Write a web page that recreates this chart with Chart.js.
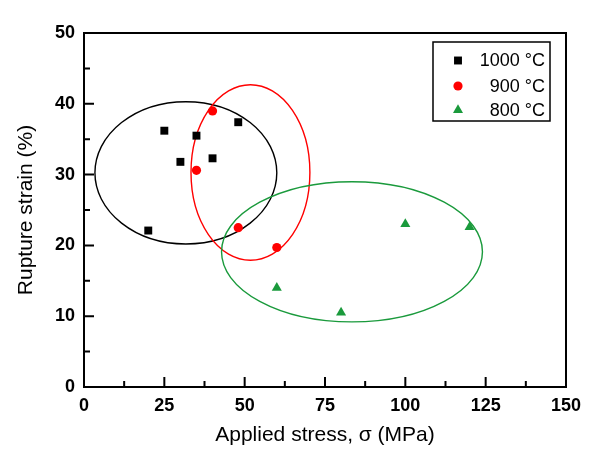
<!DOCTYPE html>
<html>
<head>
<meta charset="utf-8">
<title>Rupture strain x Applied stress</title>
<script src="https://cdn.jsdelivr.net/npm/chart.js@4/dist/chart.umd.min.js"></script>
<style>
  html, body { margin: 0; padding: 0; background: #fff; }
</style>
</head>
<body>
<canvas id="grafico" width="600" height="449"></canvas>
<script>
// dados
const series = ["1000 °C", "900 °C", "800 °C"];
const stress1000 = [20, 25, 30, 35, 40, 48];
const strain1000 = [22.1, 36.2, 31.8, 35.5, 32.3, 37.4];
const stress900 = [35, 40, 48, 60];
const strain900 = [30.6, 39.0, 22.5, 19.7];
const stress800 = [60, 80, 100, 120];
const strain800 = [14.0, 10.5, 23.0, 22.6];
const xTicks = [0, 25, 50, 75, 100, 125, 150];
const yTicks = [0, 10, 20, 30, 40, 50];

// elipses de agrupamento (unidades dos eixos): centro x, centro y, semi-eixos
const elipseCx = [31.7, 51.8, 83.4];
const elipseCy = [30.25, 30.3, 19.1];
const elipseRx = [28.3, 18.5, 40.6];
const elipseRy = [10.05, 12.4, 9.9];

const cores = ["#000000", "#ff0000", "#1a9a3c"];
const FONTE = "'Liberation Sans', Arial, Helvetica, sans-serif";

function pontos(xs, ys) {
  return xs.map((x, i) => ({ x, y: ys[i] }));
}

const elipsesPlugin = {
  id: "elipses",
  beforeDatasetsDraw(chart) {
    const { ctx, scales: { x, y } } = chart;
    ctx.save();
    ctx.lineWidth = 1.4;
    for (let i = 0; i < elipseCx.length; i++) {
      const cx = x.getPixelForValue(elipseCx[i]);
      const cy = y.getPixelForValue(elipseCy[i]);
      const rx = Math.abs(x.getPixelForValue(elipseCx[i] + elipseRx[i]) - cx);
      const ry = Math.abs(y.getPixelForValue(elipseCy[i] + elipseRy[i]) - cy);
      ctx.strokeStyle = cores[i];
      ctx.beginPath();
      ctx.ellipse(cx, cy, rx, ry, 0, 0, Math.PI * 2);
      ctx.stroke();
    }
    ctx.restore();
  }
};

// moldura + ticks internos (maiores e menores)
const molduraPlugin = {
  id: "moldura",
  afterDraw(chart) {
    const { ctx, chartArea: a, scales: { x, y } } = chart;
    ctx.save();
    ctx.strokeStyle = "#000";
    ctx.lineWidth = 2;
    ctx.strokeRect(a.left, a.top, a.right - a.left, a.bottom - a.top);

    ctx.beginPath();
    const xv = x.ticks.map(t => t.value);
    xv.forEach((v, i) => {
      const px = x.getPixelForValue(v);
      ctx.moveTo(px, a.bottom);
      ctx.lineTo(px, a.bottom - 10);
      if (i < xv.length - 1) {
        const pm = x.getPixelForValue((v + xv[i + 1]) / 2);
        ctx.moveTo(pm, a.bottom);
        ctx.lineTo(pm, a.bottom - 6);
      }
    });
    const yv = y.ticks.map(t => t.value);
    yv.forEach((v, i) => {
      const py = y.getPixelForValue(v);
      ctx.moveTo(a.left, py);
      ctx.lineTo(a.left + 10, py);
      if (i < yv.length - 1) {
        const pm = y.getPixelForValue((v + yv[i + 1]) / 2);
        ctx.moveTo(a.left, pm);
        ctx.lineTo(a.left + 6, pm);
      }
    });
    ctx.stroke();
    ctx.restore();
  }
};

// legenda desenhada a mão (marcador à esquerda, texto alinhado à direita)
const legendaPlugin = {
  id: "legenda",
  afterDraw(chart) {
    const { ctx } = chart;
    const caixa = { x: 433, y: 42, w: 117, h: 79 };
    const linhasY = [60.5, 86, 110];
    ctx.save();
    ctx.strokeStyle = "#000";
    ctx.lineWidth = 1.5;
    ctx.strokeRect(caixa.x, caixa.y, caixa.w, caixa.h);
    ctx.font = "18px " + FONTE;
    ctx.textAlign = "right";
    ctx.textBaseline = "middle";
    chart.data.datasets.forEach((ds, i) => {
      ctx.fillStyle = ds.backgroundColor;
      Chart.helpers.drawPoint(ctx, {
        pointStyle: ds.pointStyle, radius: ds.pointRadius, rotation: 0, borderWidth: 0
      }, 458, linhasY[i]);
      ctx.fillStyle = "#000";
      ctx.fillText(ds.label, 545, linhasY[i] + 1);
    });
    ctx.restore();
  }
};

const estilos = ["rect", "circle", "triangle"];
const raios = [5.6, 4.6, 5.8];
const valores = [
  pontos(stress1000, strain1000),
  pontos(stress900, strain900),
  pontos(stress800, strain800)
];

new Chart(document.getElementById("grafico"), {
  type: "scatter",
  data: {
    datasets: series.map((nome, i) => ({
      label: nome,
      data: valores[i],
      pointStyle: estilos[i],
      pointRadius: raios[i],
      pointHoverRadius: raios[i],
      backgroundColor: cores[i],
      borderColor: cores[i],
      borderWidth: 0,
      showLine: false
    }))
  },
  options: {
    responsive: false,
    animation: false,
    layout: { padding: { top: 33, right: 34, left: 0, bottom: 0 } },
    plugins: { legend: { display: false }, tooltip: { enabled: false } },
    scales: {
      x: {
        type: "linear",
        min: 0,
        max: 150,
        afterBuildTicks: s => { s.ticks = xTicks.map(v => ({ value: v })); },
        afterFit: s => { s.height = 62; },
        grid: { display: false, drawTicks: false },
        border: { display: false },
        ticks: { color: "#000", padding: 8, maxRotation: 0, autoSkip: false,
                 font: { family: FONTE, size: 18, weight: "bold" } },
        title: { display: true, text: "Applied stress, σ (MPa)", color: "#000",
                 font: { family: FONTE, size: 21 }, padding: { top: 0, bottom: 1 } }
      },
      y: {
        type: "linear",
        min: 0,
        max: 50,
        afterBuildTicks: s => { s.ticks = yTicks.map(v => ({ value: v })); },
        afterFit: s => { s.width = 84; },
        grid: { display: false, drawTicks: false },
        border: { display: false },
        ticks: { color: "#000", padding: 9, autoSkip: false,
                 font: { family: FONTE, size: 18, weight: "bold" } },
        title: { display: true, text: "Rupture strain (%)", color: "#000",
                 font: { family: FONTE, size: 21 }, padding: { top: 14, bottom: 0 } }
      }
    }
  },
  plugins: [elipsesPlugin, molduraPlugin, legendaPlugin]
});
</script>
</body>
</html>
